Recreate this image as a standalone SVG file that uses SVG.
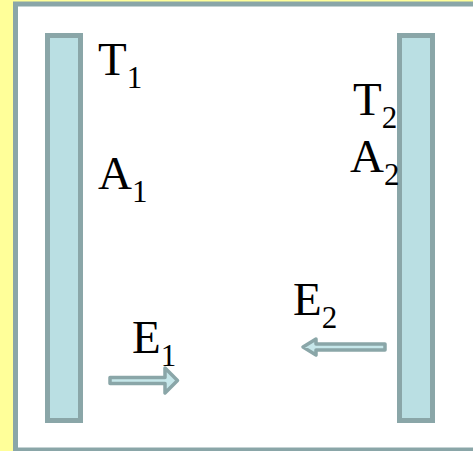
<svg xmlns="http://www.w3.org/2000/svg" width="473" height="451" viewBox="0 0 473 451">
<style>
.bar{fill:#BADFE3;stroke:#8AA6A8;stroke-width:5}
.arr{fill:#C6E7EA;stroke:#8AA6A8;stroke-width:3.5;stroke-linejoin:round}
.t{font-family:"Liberation Serif","Times New Roman",serif;font-size:47px;fill:#000}
.s{font-size:31px}
</style>
<rect x="0" y="0" width="473" height="451" fill="#FFFF99"/>
<rect x="15.5" y="4" width="470" height="446" fill="#FFFFFF" stroke="#8AA6A8" stroke-width="5"/>
<g id="plate1"><rect class="bar" x="47.5" y="35.5" width="33" height="385"/></g>
<g id="plate2"><rect class="bar" x="399.5" y="35.5" width="33" height="385"/></g>
<g id="labels">
<text class="t" x="98" y="75">T<tspan class="s" dy="13">1</tspan></text>
<text class="t" x="98" y="189">A<tspan class="s" dy="13">1</tspan></text>
<text class="t" x="353" y="115">T<tspan class="s" dy="13">2</tspan></text>
<text class="t" x="350" y="172">A<tspan class="s" dy="13">2</tspan></text>
<text class="t" x="132" y="353">E<tspan class="s" dy="13">1</tspan></text>
<text class="t" x="293" y="315">E<tspan class="s" dy="13">2</tspan></text>
</g>
<g id="connectors">
<polygon class="arr" points="110,377.5 165,377.5 165,368 177.5,380.5 165,393 165,383.5 110,383.5"/>
<polygon class="arr" points="385,344 316,344 316,339 303,347 316,355 316,350 385,350"/>
</g>
</svg>
